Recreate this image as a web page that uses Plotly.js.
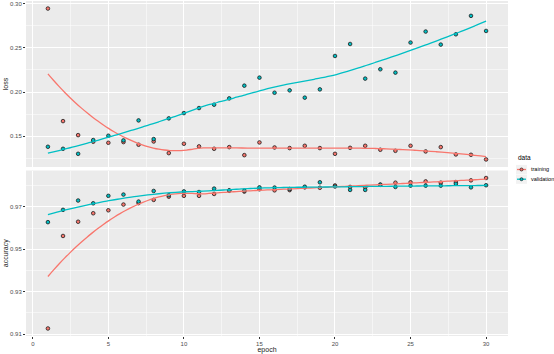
<!DOCTYPE html>
<html><head><meta charset="utf-8">
<script src="https://cdn.plot.ly/plotly-3.0.1.min.js"></script>
<style>html,body{margin:0;padding:0;background:#fff}#chart{width:554px;height:354px}</style>
</head><body><div id="chart"></div>
<script>
// ---- data ----
const epochs = [1,2,3,4,5,6,7,8,9,10,11,12,13,14,15,16,17,18,19,20,21,22,23,24,25,26,27,28,29,30];
const lossTraining = [0.2947,0.1670,0.1511,0.1436,0.1424,0.1432,0.1402,0.1439,0.1307,0.1413,0.1383,0.1356,0.1375,0.1284,0.1428,0.1371,0.1364,0.1390,0.1364,0.1299,0.1367,0.1390,0.1345,0.1333,0.1390,0.1326,0.1375,0.1292,0.1288,0.1235];
const lossValidation = [0.1379,0.1356,0.1299,0.1455,0.1504,0.1451,0.1678,0.1466,0.1701,0.1761,0.1818,0.1856,0.1928,0.2072,0.2163,0.1992,0.2019,0.1936,0.2030,0.2409,0.2545,0.2152,0.2258,0.2220,0.2561,0.2686,0.2538,0.2655,0.2864,0.2693];
const accTraining = [0.9127,0.9563,0.9630,0.9670,0.9684,0.9711,0.9718,0.9733,0.9748,0.9752,0.9752,0.9761,0.9776,0.9772,0.9783,0.9778,0.9779,0.9792,0.9790,0.9801,0.9794,0.9792,0.9805,0.9814,0.9816,0.9820,0.9814,0.9817,0.9825,0.9836];
const accValidation = [0.9628,0.9686,0.9730,0.9717,0.9752,0.9758,0.9725,0.9775,0.9755,0.9773,0.9770,0.9786,0.9778,0.9777,0.9792,0.9791,0.9784,0.9795,0.9816,0.9796,0.9780,0.9780,0.9804,0.9794,0.9800,0.9800,0.9800,0.9809,0.9792,0.9802];
const seriesNames = ['training','validation'];
const panelLabels = ['loss','accuracy'];
const legendTitle = 'data';
const xLabel = 'epoch';

// ---- styles ----
const colors = ['#F8766D','#00BFC4'];
const FONT = 'Liberation Sans, Arial, sans-serif';

// loess (degree 2, span 0.75, tricube) as used by geom_smooth
function loess(xs, ys, span, xout){
  const n = xs.length, q = Math.floor(n*span);
  return xout.map(x0=>{
    const d = xs.map(x=>Math.abs(x-x0));
    const h = d.slice().sort((a,b)=>a-b)[q-1];
    const S=[[0,0,0],[0,0,0],[0,0,0]], b=[0,0,0];
    for(let i=0;i<n;i++){
      const u=d[i]/h; if(u>=1) continue;
      const w=Math.pow(1-u*u*u,3);
      const t=xs[i]-x0, bs=[1,t,t*t];
      for(let r=0;r<3;r++){ b[r]+=w*bs[r]*ys[i]; for(let c=0;c<3;c++) S[r][c]+=w*bs[r]*bs[c]; }
    }
    const A=S.map((row,i)=>row.concat([b[i]]));
    for(let c=0;c<3;c++){
      let p=c; for(let r=c+1;r<3;r++) if(Math.abs(A[r][c])>Math.abs(A[p][c])) p=r;
      [A[c],A[p]]=[A[p],A[c]];
      for(let r=c+1;r<3;r++){ const f=A[r][c]/A[c][c]; for(let k=c;k<4;k++) A[r][k]-=f*A[c][k]; }
    }
    const sol=[0,0,0];
    for(let r=2;r>=0;r--){ let s=A[r][3]; for(let k=r+1;k<3;k++) s-=A[r][k]*sol[k]; sol[r]=s/A[r][r]; }
    return sol[0];
  });
}
const xmin=Math.min(...epochs), xmax=Math.max(...epochs);
const grid=[]; for(let i=0;i<80;i++) grid.push(xmin+(xmax-xmin)*i/79);
function expand(...arrs){ const all=[].concat(...arrs); const lo=Math.min(...all), hi=Math.max(...all), p=(hi-lo)*0.05; return [lo-p, hi+p]; }

const panels = [
  {series:[lossTraining, lossValidation], xa:'x', ya:'y'},
  {series:[accTraining, accValidation], xa:'x2', ya:'y2'}
];
const traces=[];
panels.forEach(p=>{
  p.series.forEach((ys,k)=>{
    traces.push({x:epochs, y:ys, xaxis:p.xa, yaxis:p.ya, type:'scatter', mode:'markers', showlegend:false, hoverinfo:'skip',
      marker:{size:3.6, color:colors[k], line:{color:'#1A1A1A', width:0.8}}});
  });
  p.series.forEach((ys,k)=>{
    traces.push({x:grid, y:loess(epochs, ys, 0.75, grid), xaxis:p.xa, yaxis:p.ya, type:'scatter', mode:'lines', showlegend:false, hoverinfo:'skip',
      line:{color:colors[k], width:1.3, shape:'spline'}});
  });
});

// ---- layout ----
const W=554,H=354,L=26,R=508,T=1,B=336;
const px2x = px => (px-L)/(R-L);
const py2y = py => (B-py)/(B-T);
const xr = expand(epochs);
const baseX = {range:xr, showgrid:true, gridcolor:'#FFFFFF', gridwidth:1, zeroline:false, showline:false,
  dtick:5, tick0:0, minor:{dtick:2.5, tick0:0, showgrid:true, gridcolor:'#FFFFFF', gridwidth:0.5, ticks:''}};
const tickFont = {family:FONT, size:6, color:'#4D4D4D'};
const titleFont = {family:FONT, size:7, color:'#1A1A1A'};
const layout = {
  width:W, height:H, margin:{l:L, r:W-R, t:T, b:H-B},
  paper_bgcolor:'#FFFFFF', plot_bgcolor:'#EBEBEB', showlegend:false,
  font:{family:FONT},
  xaxis: Object.assign({}, baseX, {anchor:'y', showticklabels:false, ticks:''}),
  xaxis2: Object.assign({}, baseX, {anchor:'y2', matches:'x', showticklabels:true, ticks:'outside', ticklen:2, tickcolor:'#333333', tickwidth:1,
    tickfont:tickFont, title:{text:xLabel, font:titleFont, standoff:2}}),
  yaxis: {domain:[py2y(167),1], range:expand(lossTraining,lossValidation), anchor:'x', dtick:0.05, tick0:0, tickformat:'.2f',
    showgrid:true, gridcolor:'#FFFFFF', gridwidth:1, zeroline:false, ticks:'outside', ticklen:2, tickcolor:'#333333', tickwidth:1, tickfont:tickFont,
    minor:{dtick:0.025, tick0:0, showgrid:true, gridcolor:'#FFFFFF', gridwidth:0.5, ticks:''},
    title:{text:panelLabels[0], font:titleFont, standoff:0}},
  yaxis2: {domain:[0,py2y(170.5)], range:expand(accTraining,accValidation), anchor:'x2', dtick:0.02, tick0:0.91, tickformat:'.2f',
    showgrid:true, gridcolor:'#FFFFFF', gridwidth:1, zeroline:false, ticks:'outside', ticklen:2, tickcolor:'#333333', tickwidth:1, tickfont:tickFont,
    minor:{dtick:0.01, tick0:0.91, showgrid:true, gridcolor:'#FFFFFF', gridwidth:0.5, ticks:''},
    title:{text:panelLabels[1], font:titleFont, standoff:0}},
  annotations:[], shapes:[]
};
// legend (ggplot style, drawn in right margin)
layout.annotations.push({xref:'paper', yref:'paper', x:px2x(516), y:py2y(158), xanchor:'left', yanchor:'middle', showarrow:false,
  text:legendTitle, font:{family:FONT, size:6.5, color:'#000'}});
seriesNames.forEach((nm,k)=>{
  const cy = 169.5 + k*9.7;
  layout.shapes.push({type:'rect', xref:'paper', yref:'paper', x0:px2x(516), x1:px2x(527), y0:py2y(cy-4.6), y1:py2y(cy+4.6), fillcolor:'#F2F2F2', line:{width:0}});
  layout.shapes.push({type:'line', xref:'paper', yref:'paper', x0:px2x(517), x1:px2x(526), y0:py2y(cy), y1:py2y(cy), line:{color:colors[k], width:1.3}});
  layout.shapes.push({type:'circle', xref:'paper', yref:'paper', x0:px2x(520), x1:px2x(523), y0:py2y(cy+1.5), y1:py2y(cy-1.5), fillcolor:colors[k], line:{color:'#1A1A1A', width:0.7}});
  layout.annotations.push({xref:'paper', yref:'paper', x:px2x(528.5), y:py2y(cy), xanchor:'left', yanchor:'middle', showarrow:false,
    text:nm, font:{family:FONT, size:5.5, color:'#000'}});
});
Plotly.newPlot('chart', traces, layout, {staticPlot:true, displayModeBar:false});
</script></body></html>
